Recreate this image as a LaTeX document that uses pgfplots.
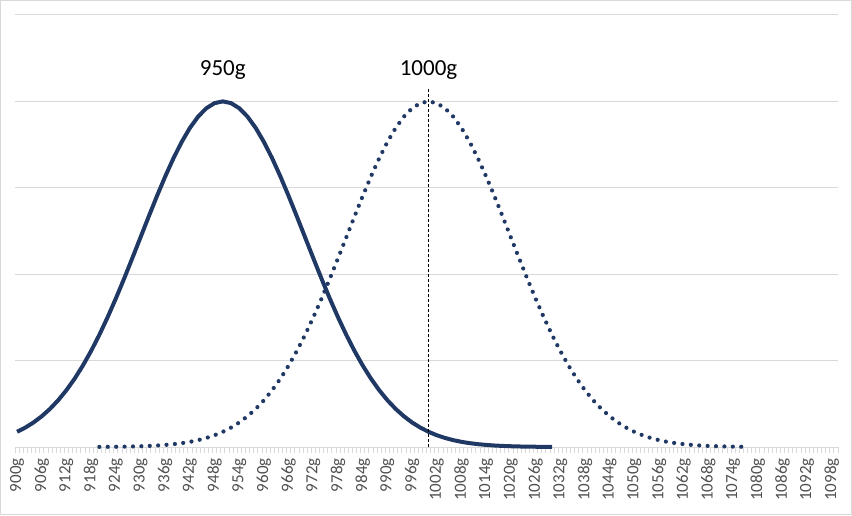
\documentclass[border=0pt]{standalone}
\usepackage{pgfplots}
\pgfplotsset{compat=1.18}
\usepackage{pgfplotstable}
\usepackage{fontspec}
\setmainfont{Carlito}
\definecolor{navy}{HTML}{1F3864}
\definecolor{gridgray}{HTML}{D9D9D9}
\definecolor{tickgray}{HTML}{505050}

% solid curve: mean 950 g
\pgfplotstableread{
x y
900 0.04394
902 0.05613
904 0.07100
906 0.08892
908 0.11025
910 0.13534
912 0.16447
914 0.19790
916 0.23575
918 0.27804
920 0.32465
922 0.37531
924 0.42956
926 0.48675
928 0.54607
930 0.60653
932 0.66698
934 0.72615
936 0.78270
938 0.83527
940 0.88250
942 0.92312
944 0.95600
946 0.98020
948 0.99501
950 1.00000
952 0.99501
954 0.98020
956 0.95600
958 0.92312
960 0.88250
962 0.83527
964 0.78270
966 0.72615
968 0.66698
970 0.60653
972 0.54607
974 0.48675
976 0.42956
978 0.37531
980 0.32465
982 0.27804
984 0.23575
986 0.19790
988 0.16447
990 0.13534
992 0.11025
994 0.08892
996 0.07100
998 0.05613
1000 0.04394
1002 0.03405
1004 0.02612
1006 0.01984
1008 0.01492
1010 0.01111
1012 0.00819
1014 0.00598
1016 0.00432
1018 0.00309
1020 0.00219
1022 0.00153
1024 0.00106
1026 0.00073
1028 0.00050
1030 0.00034
}\solid

% dotted curve: mean 1000 g
\pgfplotstableread{
x y
920 0.00034
922 0.00050
924 0.00073
926 0.00106
928 0.00153
930 0.00219
932 0.00309
934 0.00432
936 0.00598
938 0.00819
940 0.01111
942 0.01492
944 0.01984
946 0.02612
948 0.03405
950 0.04394
952 0.05613
954 0.07100
956 0.08892
958 0.11025
960 0.13534
962 0.16447
964 0.19790
966 0.23575
968 0.27804
970 0.32465
972 0.37531
974 0.42956
976 0.48675
978 0.54607
980 0.60653
982 0.66698
984 0.72615
986 0.78270
988 0.83527
990 0.88250
992 0.92312
994 0.95600
996 0.98020
998 0.99501
1000 1.00000
1002 0.99501
1004 0.98020
1006 0.95600
1008 0.92312
1010 0.88250
1012 0.83527
1014 0.78270
1016 0.72615
1018 0.66698
1020 0.60653
1022 0.54607
1024 0.48675
1026 0.42956
1028 0.37531
1030 0.32465
1032 0.27804
1034 0.23575
1036 0.19790
1038 0.16447
1040 0.13534
1042 0.11025
1044 0.08892
1046 0.07100
1048 0.05613
1050 0.04394
1052 0.03405
1054 0.02612
1056 0.01984
1058 0.01492
1060 0.01111
1062 0.00819
1064 0.00598
1066 0.00432
1068 0.00309
1070 0.00219
1072 0.00153
1074 0.00106
1076 0.00073
}\dotted

\begin{document}
\begin{tikzpicture}
\path[use as bounding box] (0,0) rectangle (852pt,515pt);
\begin{axis}[
  at={(15pt,68pt)}, anchor=south west,
  scale only axis, width=823pt, height=432pt,
  xmin=899.5, xmax=1099.5, ymin=0, ymax=1.25,
  clip=false,
  axis line style={draw=none},
  ytick={0,0.25,0.5,0.75,1,1.25}, yticklabels={},
  ytick style={draw=none},
  ymajorgrids, major grid style={draw=gridgray, line width=1pt},
  xtick={900,906,...,1098},
  xticklabels={900g,906g,912g,918g,924g,930g,936g,942g,948g,954g,960g,966g,972g,978g,984g,990g,996g,1002g,1008g,1014g,1020g,1026g,1032g,1038g,1044g,1050g,1056g,1062g,1068g,1074g,1080g,1086g,1092g,1098g},
  minor xtick={899.5,900.5,...,1099.5},
  xtick pos=bottom, tick align=outside,
  major tick length=0pt, minor tick length=6pt,
  xtick style={draw=gridgray, line width=0.8pt},
  xticklabel style={yshift=-11pt, rotate=90, anchor=east, inner sep=0pt,
    font=\fontsize{17}{18}\selectfont, text=tickgray},
]
\addplot[navy, line width=4pt, line join=round] table {\solid};
\addplot[navy, line width=4.2pt, line cap=round, dash pattern=on 0pt off 8.4pt] table {\dotted};
\addplot[black, line width=0.8pt, dash pattern=on 3pt off 2pt] coordinates {(1000,0) (1000,1.039)};
\node[anchor=base, font=\fontsize{23}{26}\selectfont] at (axis cs:950,1.0735) {950g};
\node[anchor=base, font=\fontsize{23}{26}\selectfont] at (axis cs:1000,1.0735) {1000g};
\end{axis}
\draw[gridgray, line width=1.2pt] (0.6pt,0.6pt) rectangle (851.4pt,514.4pt);
\end{tikzpicture}
\end{document}
